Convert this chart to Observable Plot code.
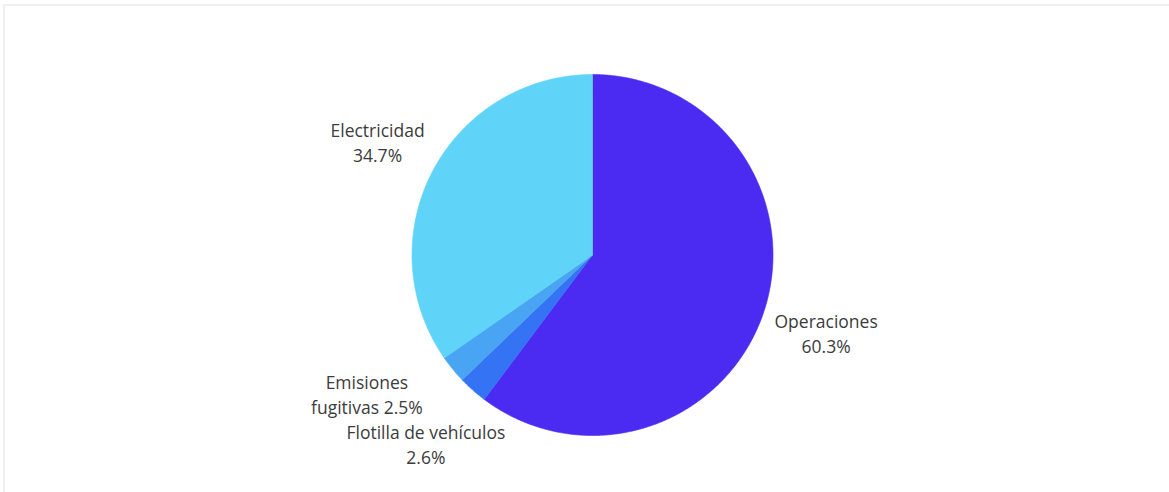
<!DOCTYPE html>
<html>
<head>
<meta charset="utf-8">
<script src="https://cdn.jsdelivr.net/npm/d3@7"></script>
<script src="https://cdn.jsdelivr.net/npm/@observablehq/plot@0.6"></script>
<style>
  html, body { margin: 0; padding: 0; background: #fff; }
  #wrap { position: relative; width: 1169px; height: 492px; overflow: hidden; }
  #frame {
    position: absolute; left: 3px; top: 4px; right: -10px; bottom: -10px;
    border-top: 2px solid #efefef; border-left: 2px solid #efefef;
  }
  #chart { position: absolute; left: 0; top: 0; }
</style>
</head>
<body>
<div id="wrap"><div id="frame"></div><div id="chart"></div></div>
<script>
// Emission sources and their share (%)
const categories = ["Operaciones", "Flotilla de vehículos", "Emisiones fugitivas", "Electricidad"];
const shares = [60.3, 2.6, 2.5, 34.7];
const labelText = ["Operaciones\n60.3%", "Flotilla de vehículos\n2.6%", "Emisiones\nfugitivas 2.5%", "Electricidad\n34.7%"];
const colors = ["#4b2af2", "#3473f3", "#4aa4f4", "#60d3f9"];

const W = 1169, H = 492;
const cx = 592, cy = 254.5, R = 180.5;   // pie centre and radius in pixels

// Slice angles, clockwise from 12 o'clock
const total = d3.sum(shares);
let acc = 0;
const slices = categories.map((name, i) => {
  const a0 = acc / total * 2 * Math.PI;
  acc += shares[i];
  const a1 = acc / total * 2 * Math.PI;
  return {name, value: shares[i], a0, a1, mid: (a0 + a1) / 2, label: labelText[i]};
});

// Polygon outline of each wedge (unit radius, y up)
const wedgePoints = slices.flatMap(s => {
  const pts = [{name: s.name, x: 0, y: 0}];
  const n = Math.max(2, Math.ceil((s.a1 - s.a0) / (Math.PI / 360)));
  for (let k = 0; k <= n; k++) {
    const a = s.a0 + (s.a1 - s.a0) * k / n;
    pts.push({name: s.name, x: Math.sin(a), y: Math.cos(a)});
  }
  pts.push({name: s.name, x: 0, y: 0});
  return pts;
});

// Label placement: just outside the rim at the mid-angle, with small nudges
const labelRadius = 1.3;
const nudge = {
  "Operaciones": [11, 3],
  "Flotilla de vehículos": [-11, 13],
  "Emisiones fugitivas": [-44, -10],
  "Electricidad": [-7, -5]
};

const labelMarks = slices.map(s => Plot.text([s], {
  x: d => Math.sin(d.mid) * labelRadius,
  y: d => Math.cos(d.mid) * labelRadius,
  text: "label",
  dx: nudge[s.name][0],
  dy: nudge[s.name][1],
  textAnchor: "middle",
  lineAnchor: "middle",
  lineHeight: 1.43,
  fontSize: 17.5,
  fill: "#3c3c3c"
}));

const chart = Plot.plot({
  width: W,
  height: H,
  margin: 0,
  style: {background: "transparent", fontFamily: "'Open Sans', sans-serif"},
  x: {type: "linear", domain: [-cx / R, (W - cx) / R], range: [0, W], axis: null},
  y: {type: "linear", domain: [-(H - cy) / R, cy / R], range: [H, 0], axis: null},
  color: {domain: categories, range: colors},
  marks: [
    Plot.line(wedgePoints, {
      x: "x", y: "y", z: "name",
      fill: "name", stroke: "name", strokeWidth: 0.6,
      curve: "linear"
    }),
    ...labelMarks
  ]
});

document.getElementById("chart").appendChild(chart);
</script>
</body>
</html>
